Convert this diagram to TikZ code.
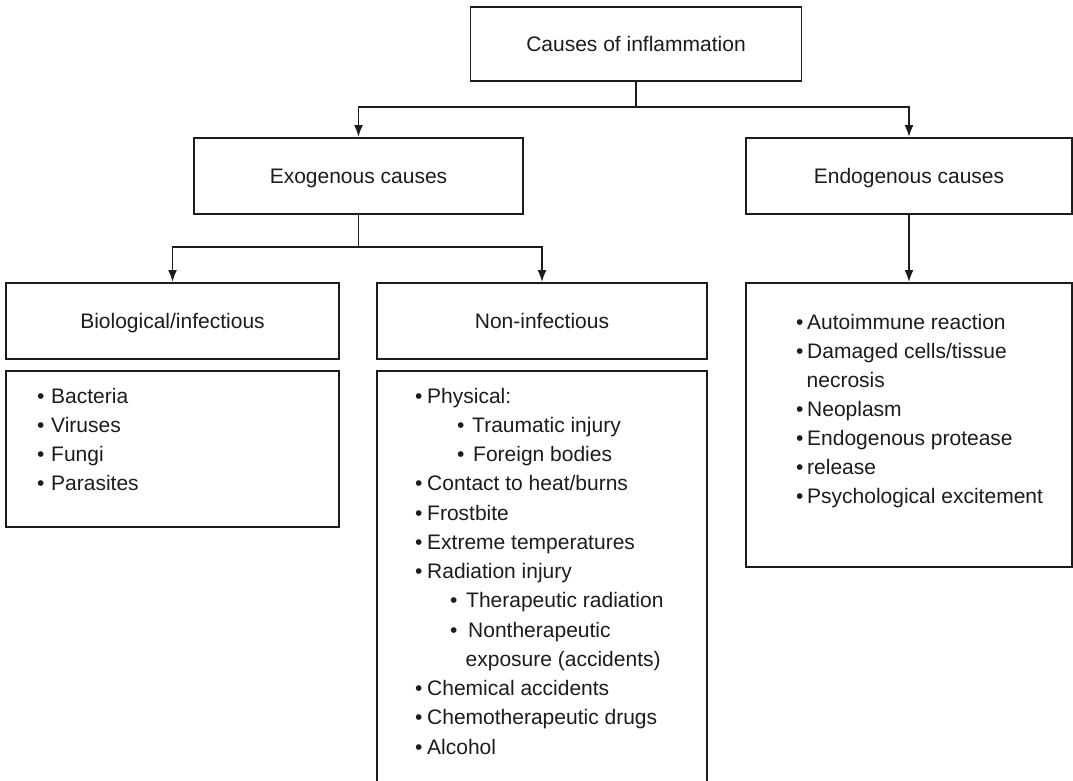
\documentclass[tikz,border=0pt]{standalone}
\usepackage{fontspec}
\setmainfont{Liberation Sans}
\usetikzlibrary{arrows.meta}
\definecolor{ink}{HTML}{1C1C1C}

% one bulleted line: name, bullet x, text x, baseline y, text
\newcommand\bitem[5]{%
  \node[item] (#1) at (#2-1,#4) {\rlap{•}\hspace{\dimexpr #3pt-#2pt\relax}#5};}
% continuation line without a bullet: name, text x, baseline y, text
\newcommand\citem[4]{%
  \node[item] (#1) at (#2-1.5,#3) {#4};}

\begin{document}
\begin{tikzpicture}[x=1pt,y=-1pt,
  box/.style={draw=ink, line width=1.9pt, fill=white, inner sep=0pt,
    text=ink, font=\fontsize{21}{25}\selectfont,
    text height=15pt, text depth=0pt},
  item/.style={anchor=base west, inner sep=0pt, text=ink,
    font=\fontsize{21}{25}\selectfont},
  link/.style={draw=ink, line width=1.9pt},
  arr/.style={link, -{Latex[length=12pt,width=9pt]}}]
\useasboundingbox (0,0) rectangle (1073,780);

% headings
\node[box, minimum width=331pt, minimum height=74pt] (top) at (636,44) {Causes of inflammation};
\node[box, minimum width=329pt, minimum height=76pt] (exo) at (358.5,176) {Exogenous causes};
\node[box, minimum width=326pt, minimum height=76pt] (endo) at (909,176) {Endogenous causes};
\node[box, minimum width=333pt, minimum height=76pt] (bio) at (172.5,321) {Biological/infectious};
\node[box, minimum width=330pt, minimum height=76pt] (noninf) at (542,321) {Non-infectious};

% list frames
\node[box, minimum width=333pt, minimum height=156pt] (biolist) at (172.5,449) {};
\node[box, minimum width=330pt, minimum height=429pt] (noninflist) at (542,585.5) {};
\node[box, minimum width=326pt, minimum height=284pt] (endolist) at (909,425) {};

% connectors
\coordinate (tj) at (top.south |- 0,107);
\coordinate (ej) at (exo.south |- 0,247);
\draw[link] (top.south) -- (tj);
\draw[arr] (tj) -| (exo.north);
\draw[arr] (tj) -| (endo.north);
\draw[link] (exo.south) -- (ej);
\draw[arr] (ej) -| (bio.north);
\draw[arr] (ej) -| (noninf.north);
\draw[arr] (endo.south) -- (endolist.north);

% biological / infectious
\bitem{b1}{38}{52}{403}{Bacteria}
\bitem{b2}{38}{52}{432}{Viruses}
\bitem{b3}{38}{52}{461}{Fungi}
\bitem{b4}{38}{52}{490}{Parasites}

% non-infectious
\bitem{n1}{416}{428}{403}{Physical:}
\bitem{n2}{458}{473}{432.25}{Traumatic injury}
\bitem{n3}{458}{474}{461.5}{Foreign bodies}
\bitem{n4}{416}{428}{490.75}{Contact to heat/burns}
\bitem{n5}{416}{428}{520}{Frostbite}
\bitem{n6}{416}{428}{549.25}{Extreme temperatures}
\bitem{n7}{416}{428}{578.5}{Radiation injury}
\bitem{n8}{451}{467}{607.75}{Therapeutic radiation}
\bitem{n9}{451}{469}{637}{Nontherapeutic}
\citem{n10}{467}{666.25}{exposure (accidents)}
\bitem{n11}{416}{428}{695.5}{Chemical accidents}
\bitem{n12}{416}{428}{724.75}{Chemotherapeutic drugs}
\bitem{n13}{416}{428}{754}{Alcohol}

% endogenous
\bitem{d1}{797}{808}{329}{Autoimmune reaction}
\bitem{d2}{797}{808}{358}{Damaged cells/tissue}
\citem{d3}{808}{387}{necrosis}
\bitem{d4}{797}{808}{416}{Neoplasm}
\bitem{d5}{797}{808}{445}{Endogenous protease}
\bitem{d6}{797}{808}{474}{release}
\bitem{d7}{797}{808}{503}{Psychological excitement}
\end{tikzpicture}
\end{document}
